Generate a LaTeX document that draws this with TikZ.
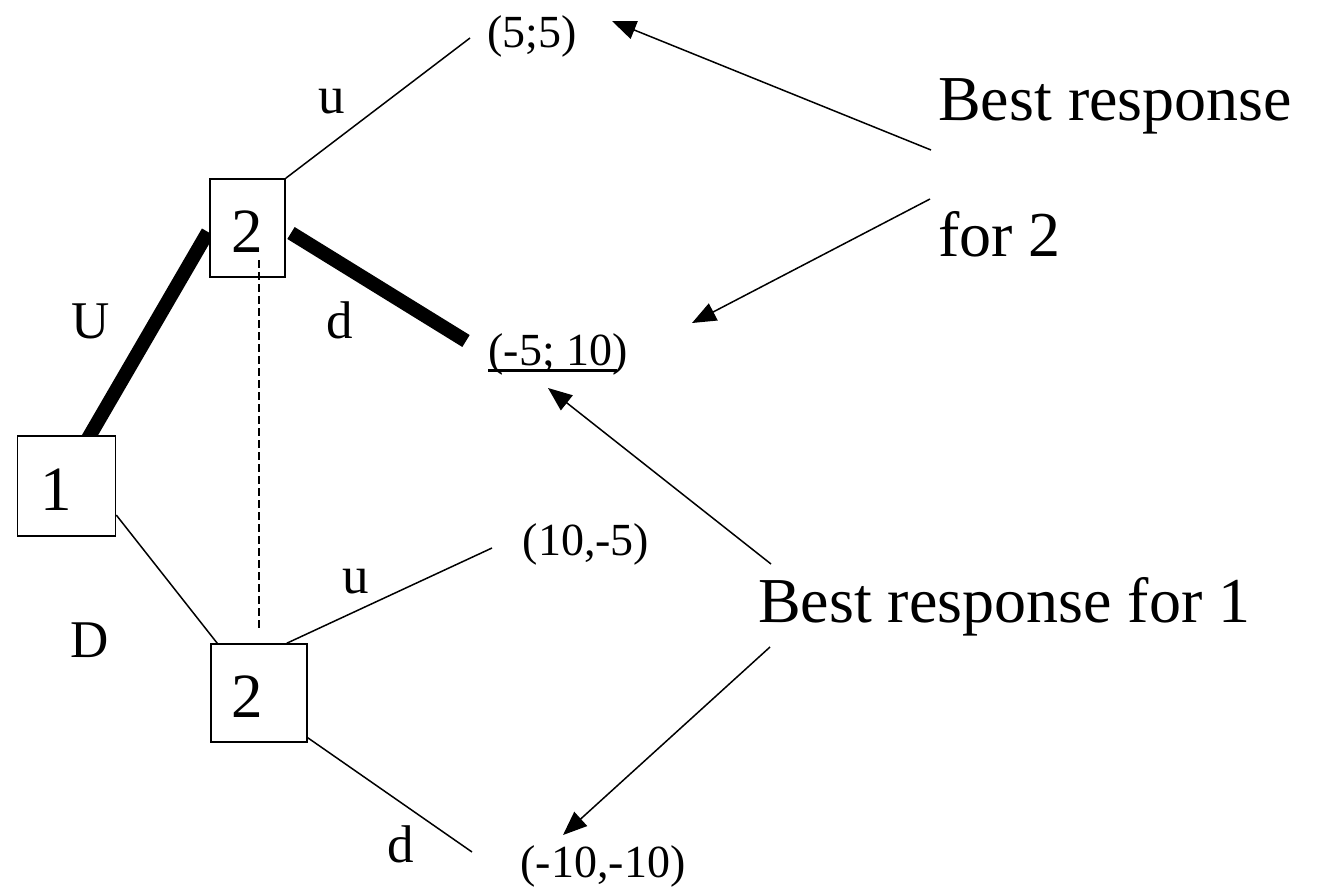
\documentclass[tikz,border=0pt]{standalone}
\usepackage{fontspec}
\setmainfont{Liberation Serif}
\usetikzlibrary{arrows.meta,calc,backgrounds}
\begin{document}
\begin{tikzpicture}[x=1pt,y=-1pt,
  box/.style={draw, line width=1.5pt, fill=white, inner sep=0pt},
  big/.style={inner sep=0pt, anchor=base, font=\fontsize{63}{70}\selectfont},
  bigl/.style={inner sep=0pt, anchor=base west, font=\fontsize{64}{70}\selectfont},
  lab/.style={inner sep=0pt, anchor=base, font=\fontsize{53}{60}\selectfont},
  pay/.style={inner sep=0pt, anchor=base, font=\fontsize{46}{52}\selectfont},
  thinline/.style={line width=1.5pt},
  thickline/.style={line width=14pt, line cap=butt},
  infoset/.style={line width=1.5pt, dash pattern=on 8pt off 4pt},
  pointer/.style={line width=1.5pt, -{Triangle[length=24pt,width=19pt]}},
]
\useasboundingbox (0,0) rectangle (1326,887);

% decision nodes
\node[box, minimum width=98pt, minimum height=100pt] (n1) at (66.5,486) {};
\node[box, minimum width=75pt, minimum height=98pt] (n2a) at (247.5,228) {};
\node[box, minimum width=96pt, minimum height=98pt] (n2b) at (259,693) {};
\node[big] (d1) at (56,510) {1};
\node[big] (d2a) at (247,252) {2};
\node[big] (d2b) at (247,717) {2};

% payoffs
\node[pay] (p1) at (532,47) {(5;5)};
\node[pay] (p2) at (558,365) {\makebox[0pt][l]{\rule[-7pt]{129pt}{3pt}}(-5; 10)};
\node[pay] (p3) at (586,555) {(10,-5)};
\node[pay] (p4) at (603,877) {(-10,-10)};

% action labels
\node[lab] (lu1) at (332,113) {u};
\node[lab] (lU) at (90.5,338) {U};
\node[lab] (ld1) at (339.5,338) {d};
\node[lab] (lu2) at (356,593) {u};
\node[lab] (lD) at (89.5,657) {D};
\node[lab] (ld2) at (401,862) {d};

% comments
\node[bigl] (br2a) at (938,120) {Best response};
\node[bigl] (br2b) at (938,256) {for 2};
\node[bigl] (br1) at (758,622) {Best response for 1};

% free ends
\coordinate (uEnd) at (470,38);
\coordinate (dEnd) at (466,341);
\coordinate (dStart) at (291,233);
\coordinate (UStart) at (86,442);
\coordinate (UEnd) at (208,232);
\coordinate (u2End) at (492,548);
\coordinate (d2End) at (472,852);
\coordinate (dashTop) at (259,260);
\coordinate (dashBot) at (259,629);

\begin{scope}[on background layer]
\fill[white] (0,0) rectangle (1326,887);
\draw[thickline] (UStart) -- (UEnd);
\end{scope}
\draw[thickline] (dStart) -- (dEnd);
\draw[thinline] (n2a.north east) -- (uEnd);
\draw[thinline] ($(n1.east)+(0,29)$) -- ($(n2b.north west)+(7,0)$);
\draw[thinline] ($(n2b.north east)+(-21,0)$) -- (u2End);
\draw[thinline] ($(n2b.south east)+(0,-5)$) -- (d2End);
\draw[infoset] (dashTop) -- (dashBot);

% pointers
\coordinate (a1s) at (931,150);
\coordinate (a1e) at (612,21);
\coordinate (a2s) at (930,199);
\coordinate (a2e) at (692,323);
\coordinate (a3s) at (771,564);
\coordinate (a3e) at (548,388);
\coordinate (a4s) at (770,647);
\coordinate (a4e) at (563,835);
\draw[pointer] (a1s) -- (a1e);
\draw[pointer] (a2s) -- (a2e);
\draw[pointer] (a3s) -- (a3e);
\draw[pointer] (a4s) -- (a4e);
\end{tikzpicture}
\end{document}
